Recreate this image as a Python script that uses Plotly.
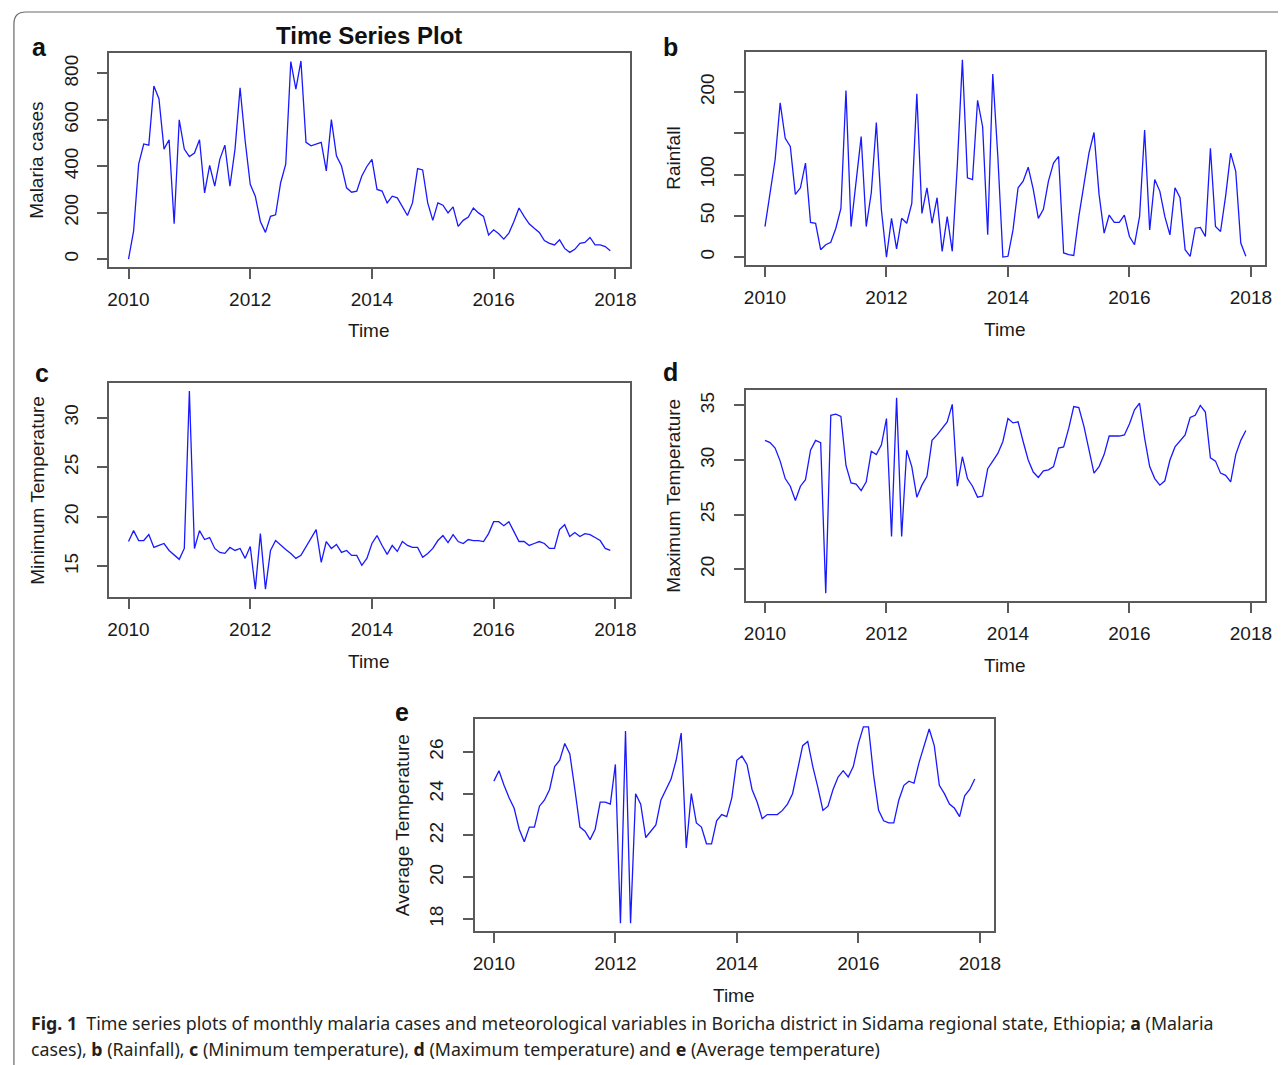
import plotly.graph_objects as go

# ---------------- data (monthly, Jan 2010 - Dec 2017) ----------------
start_year = 2010
n_months = 96

malaria_cases = [0, 120, 409, 496, 491, 746, 691, 474, 514, 152, 600, 474,
                 442, 457, 514, 285, 404, 314, 430, 491, 314, 474, 738, 510,
                 322, 271, 162, 115, 184, 191, 329, 409, 851, 732, 854, 503,
                 488, 496, 503, 380, 601, 445, 401, 307, 288, 293, 358, 399,
                 430, 300, 293, 242, 271, 264, 228, 188, 242, 390, 384, 242,
                 167, 242, 232, 199, 225, 141, 167, 181, 220, 199, 184, 104,
                 126, 109, 86, 112, 162, 220, 184, 152, 133, 115, 80, 68,
                 61, 83, 46, 29, 42, 68, 72, 93, 61, 61, 54, 36]

rainfall = [37, 78, 118, 187, 144, 134, 76, 84, 114, 42, 41, 9,
            15, 18, 35, 59, 202, 37, 90, 146, 37, 78, 163, 57,
            0, 47, 10, 47, 41, 65, 198, 53, 84, 41, 72, 7,
            49, 7, 112, 239, 96, 94, 190, 158, 27, 222, 122, 0,
            1, 33, 84, 92, 109, 82, 47, 58, 92, 114, 122, 5,
            3, 2, 49, 86, 126, 151, 76, 29, 51, 42, 42, 51,
            25, 15, 49, 154, 33, 94, 80, 49, 27, 84, 72, 9,
            1, 35, 36, 25, 132, 37, 31, 74, 126, 104, 17, 1]

min_temperature = [17.5, 18.6, 17.6, 17.6, 18.2, 16.9, 17.1, 17.3, 16.6, 16.1, 15.7, 16.8,
                   32.7, 16.8, 18.6, 17.7, 17.9, 16.8, 16.4, 16.3, 16.9, 16.6, 16.8, 15.8,
                   17.0, 12.7, 18.3, 12.7, 16.6, 17.6, 17.1, 16.7, 16.3, 15.8, 16.1, 17.0,
                   17.8, 18.7, 15.4, 17.5, 16.8, 17.2, 16.4, 16.6, 16.1, 16.1, 15.1, 15.8,
                   17.3, 18.1, 17.1, 16.2, 17.1, 16.5, 17.5, 17.1, 16.9, 16.9, 15.9, 16.3,
                   16.8, 17.6, 18.1, 17.4, 18.2, 17.5, 17.3, 17.7, 17.6, 17.6, 17.5, 18.3,
                   19.5, 19.5, 19.1, 19.5, 18.5, 17.5, 17.5, 17.1, 17.3, 17.5, 17.3, 16.8,
                   16.8, 18.7, 19.2, 18.0, 18.4, 18.0, 18.3, 18.2, 17.9, 17.6, 16.8, 16.6]

max_temperature = [31.8, 31.6, 31.1, 29.9, 28.3, 27.6, 26.3, 27.6, 28.2, 30.9, 31.8, 31.6,
                   17.8, 34.1, 34.2, 34.0, 29.5, 27.9, 27.8, 27.2, 28.0, 30.8, 30.5, 31.4,
                   33.8, 23.0, 35.7, 23.0, 30.9, 29.4, 26.6, 27.7, 28.5, 31.8, 32.3, 32.9,
                   33.5, 35.1, 27.6, 30.3, 28.3, 27.6, 26.6, 26.7, 29.2, 29.9, 30.6, 31.7,
                   33.8, 33.4, 33.5, 31.7, 30.0, 28.9, 28.4, 29.0, 29.1, 29.4, 31.1, 31.2,
                   32.9, 34.9, 34.8, 33.1, 30.8, 28.8, 29.4, 30.5, 32.2, 32.2, 32.2, 32.3,
                   33.3, 34.6, 35.2, 32.0, 29.4, 28.3, 27.7, 28.1, 30.0, 31.2, 31.8, 32.3,
                   33.9, 34.1, 35.0, 34.4, 30.2, 29.9, 28.8, 28.6, 28.0, 30.5, 31.8, 32.7]

avg_temperature = [24.6, 25.1, 24.4, 23.8, 23.3, 22.3, 21.7, 22.4, 22.4, 23.4, 23.7, 24.2,
                   25.3, 25.6, 26.4, 25.9, 24.2, 22.4, 22.2, 21.8, 22.3, 23.6, 23.6, 23.5,
                   25.4, 17.8, 27.0, 17.8, 24.0, 23.5, 21.9, 22.2, 22.5, 23.7, 24.2, 24.7,
                   25.6, 26.9, 21.4, 24.0, 22.6, 22.4, 21.6, 21.6, 22.7, 23.0, 22.9, 23.8,
                   25.6, 25.8, 25.4, 24.2, 23.6, 22.8, 23.0, 23.0, 23.0, 23.2, 23.5, 24.0,
                   25.2, 26.3, 26.5, 25.3, 24.3, 23.2, 23.4, 24.2, 24.8, 25.1, 24.8, 25.3,
                   26.4, 27.2, 27.2, 24.9, 23.2, 22.7, 22.6, 22.6, 23.7, 24.4, 24.6, 24.5,
                   25.5, 26.3, 27.1, 26.3, 24.4, 24.0, 23.5, 23.3, 22.9, 23.9, 24.2, 24.7]

x_tick_values = [2010, 2012, 2014, 2016, 2018]
x_tick_labels = ["2010", "2012", "2014", "2016", "2018"]

malaria_ticks = [0, 200, 400, 600, 800]
malaria_ticklabels = ["0", "200", "400", "600", "800"]
rain_ticks = [0, 50, 100, 150, 200]
rain_ticklabels = ["0", "50", "100", "", "200"]
min_ticks = [15, 20, 25, 30]
min_ticklabels = ["15", "20", "25", "30"]
max_ticks = [20, 25, 30, 35]
max_ticklabels = ["20", "25", "30", "35"]
avg_ticks = [18, 20, 22, 24, 26]
avg_ticklabels = ["18", "20", "22", "24", "26"]

caption_line1 = ("<b>Fig. 1</b>  Time series plots of monthly malaria cases and meteorological variables "
                 "in Boricha district in Sidama regional state, Ethiopia; <b>a</b> (Malaria")
caption_line2 = ("cases), <b>b</b> (Rainfall), <b>c</b> (Minimum temperature), <b>d</b> (Maximum temperature) "
                 "and <b>e</b> (Average temperature)")

time_index = [start_year + m / 12 for m in range(n_months)]

# ---------------- layout helpers ----------------
W, H = 1285, 1065


def fx(x):
    return x / W


def fy(y):
    return 1 - y / H


def r_range(v):
    lo, hi = min(v), max(v)
    d = (hi - lo) * 0.04
    return [lo - d, hi + d]


x_range = r_range([time_index[0], time_index[-1]])

panels = [
    # values, ticks, ticktext, y-title, letter, box (x0, x1, ytop, ybottom), letter pos
    (malaria_cases, malaria_ticks, malaria_ticklabels, "Malaria cases", "a", (108, 632, 53, 267), (38, 47)),
    (rainfall, rain_ticks, rain_ticklabels, "Rainfall", "b", (749, 1272, 52, 265), (673, 47)),
    (min_temperature, min_ticks, min_ticklabels, "Minimum Temperature", "c", (108, 632, 383, 597), (40, 373)),
    (max_temperature, max_ticks, max_ticklabels, "Maximum Temperature", "d", (749, 1272, 390, 601), (673, 372)),
    (avg_temperature, avg_ticks, avg_ticklabels, "Average Temperature", "e", (476, 999, 719, 931), (403, 712)),
]

FONT = "Liberation Sans, Arial, sans-serif"
AXIS_COLOR = "#5a5a5a"
TEXT_COLOR = "#1a1a1a"
TICK_FONT = 19

fig = go.Figure()
annotations = []
layout = {}

for i, (vals, yt, ytt, ytitle, letter, box, lpos) in enumerate(panels):
    n = "" if i == 0 else str(i + 1)
    x0, x1, yt_px, yb_px = box
    fig.add_trace(go.Scatter(
        x=time_index, y=vals, mode="lines",
        line=dict(color="rgb(25,25,255)", width=1.3),
        xaxis="x" + n, yaxis="y" + n, showlegend=False, hoverinfo="x+y",
    ))
    layout["xaxis" + n] = dict(
        domain=[fx(x0), fx(x1)], anchor="y" + n, range=x_range,
        tickmode="array", tickvals=x_tick_values, ticktext=x_tick_labels,
        ticks="outside", ticklen=10, tickwidth=1.5, tickcolor=AXIS_COLOR,
        ticklabelstandoff=4,
        showline=True, linecolor=AXIS_COLOR, linewidth=1.5, mirror=True,
        showgrid=False, zeroline=False,
        tickfont=dict(family=FONT, size=TICK_FONT, color=TEXT_COLOR),
        fixedrange=True,
    )
    layout["yaxis" + n] = dict(
        domain=[fy(yb_px), fy(yt_px)], anchor="x" + n, range=r_range(vals),
        tickmode="array", tickvals=yt, ticktext=ytt, tickangle=-90,
        ticks="outside", ticklen=10, tickwidth=1.5, tickcolor=AXIS_COLOR,
        ticklabelstandoff=12,
        showline=True, linecolor=AXIS_COLOR, linewidth=1.5, mirror=True,
        showgrid=False, zeroline=False,
        tickfont=dict(family=FONT, size=TICK_FONT, color=TEXT_COLOR),
        fixedrange=True,
    )
    # x axis title "Time"
    annotations.append(dict(
        text="Time", x=fx((x0 + x1) / 2), y=fy(yb_px + 64), xref="paper", yref="paper",
        xanchor="center", yanchor="middle", showarrow=False,
        font=dict(family=FONT, size=TICK_FONT, color=TEXT_COLOR),
    ))
    # y axis title
    annotations.append(dict(
        text=ytitle, x=fx(x0 - 73), y=fy((yt_px + yb_px) / 2), xref="paper", yref="paper",
        xanchor="center", yanchor="middle", showarrow=False, textangle=-90,
        font=dict(family=FONT, size=TICK_FONT, color=TEXT_COLOR),
    ))
    # panel letter
    annotations.append(dict(
        text="<b>%s</b>" % letter, x=fx(lpos[0]), y=fy(lpos[1]), xref="paper", yref="paper",
        xanchor="center", yanchor="middle", showarrow=False,
        font=dict(family=FONT, size=25, color="#111111"),
    ))

# main title of panel a
annotations.append(dict(
    text="<b>Time Series Plot</b>", x=fx(370), y=fy(36), xref="paper", yref="paper",
    xanchor="center", yanchor="middle", showarrow=False,
    font=dict(family=FONT, size=24, color="#111111"),
))

# caption (two lines)
for txt, ypx in ((caption_line1, 1023), (caption_line2, 1049)):
    annotations.append(dict(
        text=txt, x=fx(27), y=fy(ypx), xref="paper", yref="paper",
        xanchor="left", yanchor="middle", align="left", showarrow=False,
        font=dict(family="Noto Sans, Open Sans, sans-serif", size=17.8, color="#231f20"),
    ))

# figure frame (rounded top-left corner, running off the right and bottom edges)
frame_path = "M %f %f L %f %f Q %f %f %f %f L %f %f" % (
    fx(12), fy(1065), fx(12), fy(24), fx(12), fy(12), fx(24), fy(12), fx(1285), fy(12))

layout.update(dict(
    width=W, height=H,
    margin=dict(l=0, r=0, t=0, b=0),
    paper_bgcolor="white", plot_bgcolor="white",
    annotations=annotations,
    shapes=[dict(type="path", path=frame_path, xref="paper", yref="paper",
                 line=dict(color="#6b6b6b", width=1.2))],
))
fig.update_layout(**layout)

fig.write_html(
    "out.html",
    config={"displayModeBar": False},
    post_script="document.body.style.margin='0';document.body.style.overflow='hidden';",
)
